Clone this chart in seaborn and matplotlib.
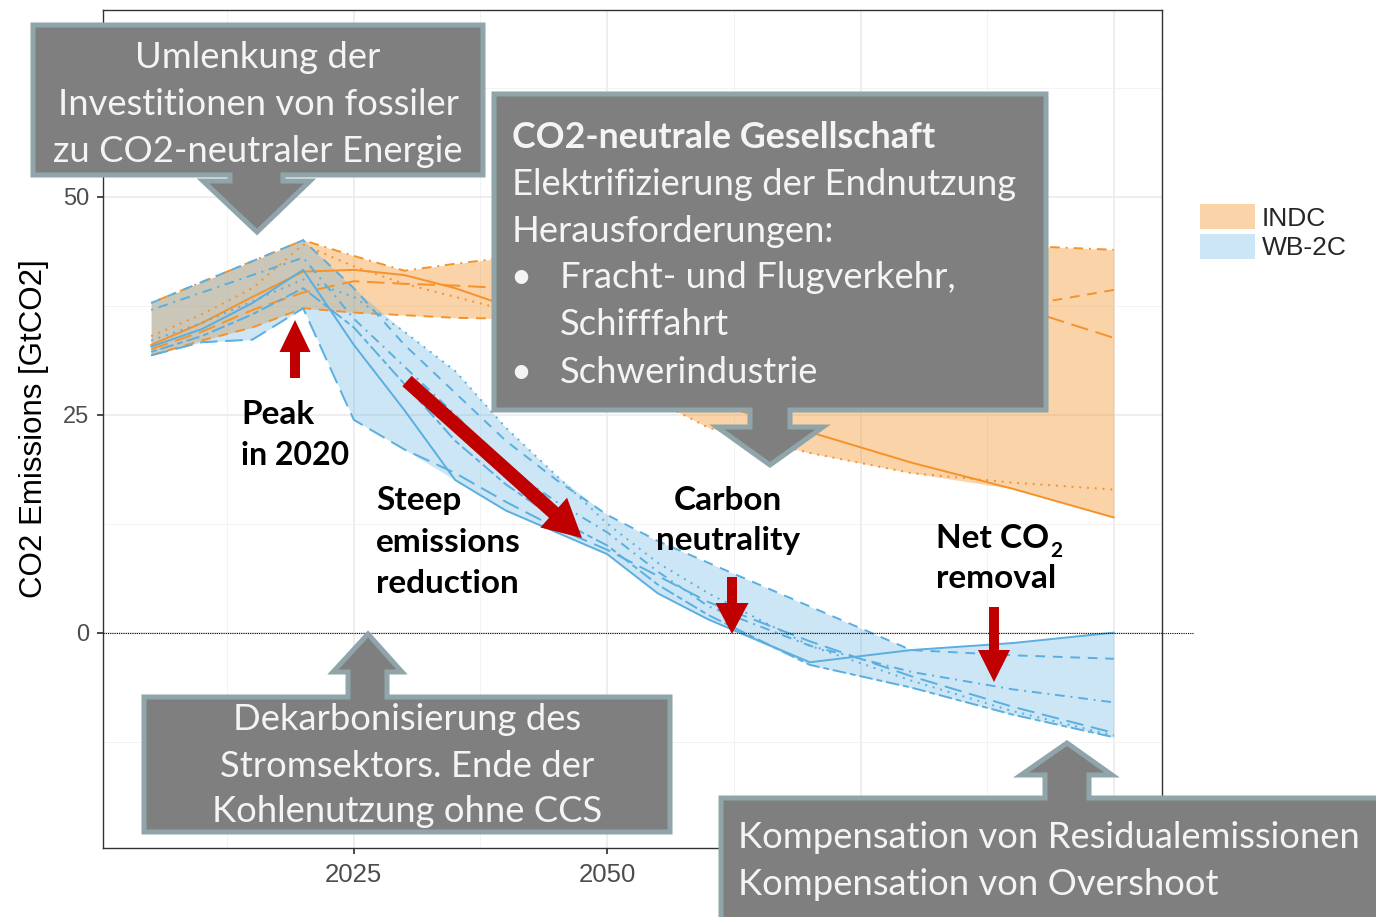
import numpy as np
import pandas as pd
import matplotlib
matplotlib.use("Agg")
import matplotlib.pyplot as plt
import seaborn as sns
from matplotlib.patches import Polygon, Patch

# ---------------- data (GtCO2) ----------------
years = [2005, 2010, 2015, 2020, 2025, 2030, 2035, 2040, 2045, 2050,
         2055, 2060, 2070, 2080, 2090, 2100]

# WB-2C pathways (one list per model)
wb_solid    = [32.8, 34.8, 37.8, 41.6, 33.0, 25.5, 17.5, 14.0, 11.5, 9.0, 4.5, 1.5, -3.4, -2.0, -1.2, 0.0]
wb_dash     = [37.8, 40.2, 42.6, 45.0, 39.5, 33.0, 27.5, 22.0, 17.5, 13.5, 10.5, 8.0, 3.0, -2.0, -2.6, -3.0]
wb_dot      = [33.5, 35.5, 38.0, 40.5, 38.5, 34.5, 30.0, 23.5, 18.0, 12.5, 8.0, 4.5, -1.5, -5.5, -9.0, -11.8]
wb_dashdot  = [37.0, 39.0, 41.0, 43.0, 36.0, 30.5, 25.0, 19.0, 15.0, 11.5, 7.0, 3.0, -1.5, -4.5, -6.5, -8.0]
wb_longdash = [31.8, 33.3, 33.6, 37.2, 24.4, 21.0, 18.3, 15.0, 12.0, 9.5, 6.5, 3.5, -1.0, -5.0, -8.5, -11.5]
wb_twodash  = [32.2, 34.0, 36.5, 39.5, 35.0, 28.5, 22.0, 17.0, 13.0, 10.0, 5.5, 2.0, -3.7, -6.3, -9.4, -12.0]

# INDC pathways
indc_solid    = [33.0, 35.5, 38.5, 41.4, 41.6, 41.0, 39.5, 37.5, 35.0, 32.0, 29.0, 26.5, 23.0, 19.5, 16.5, 13.2]
indc_dot      = [34.0, 36.5, 39.5, 44.5, 42.0, 40.0, 38.5, 37.0, 33.5, 30.0, 26.5, 23.5, 20.6, 18.3, 17.2, 16.4]
indc_dashdot  = [37.8, 40.2, 42.6, 45.0, 43.2, 41.5, 42.3, 43.0, 43.5, 44.0, 44.5, 45.0, 45.2, 44.8, 44.4, 43.9]
indc_dash     = [31.8, 33.5, 35.0, 37.2, 36.7, 36.4, 36.1, 36.0, 36.2, 36.5, 36.8, 37.0, 37.3, 37.5, 37.3, 39.3]
indc_longdash = [32.5, 34.5, 37.0, 39.0, 40.3, 40.0, 39.8, 39.5, 39.5, 39.3, 39.2, 39.0, 38.7, 38.4, 37.5, 33.8]

scenario_labels = ["INDC", "WB-2C"]
x_ticks = [2025, 2050, 2075, 2100]
x_tick_labels = ["2025", "2050", "", ""]   # last two sit under the callout box
y_ticks = [0, 25, 50]

wb_models = {"solid": wb_solid, "dash": wb_dash, "dot": wb_dot,
             "dashdot": wb_dashdot, "longdash": wb_longdash, "twodash": wb_twodash}
indc_models = {"solid": indc_solid, "dot": indc_dot, "dashdot": indc_dashdot,
               "dash": indc_dash, "longdash": indc_longdash}

rows = []
for scen, models in [("INDC", indc_models), ("WB-2C", wb_models)]:
    for m, vals in models.items():
        for y, v in zip(years, vals):
            rows.append((scen, m, y, v))
df = pd.DataFrame(rows, columns=["scenario", "model", "year", "value"])

# ---------------- style ----------------
sns.set_theme(style="ticks")
plt.rcParams["font.family"] = ["Liberation Sans", "DejaVu Sans"]

W, H = 1376, 917
fig = plt.figure(figsize=(W / 100, H / 100), dpi=100)
fig.patch.set_facecolor("white")


def px(x, y):
    return (x / W, 1 - y / H)


ax = fig.add_axes([103 / W, 1 - 848 / H, (1162 - 103) / W, (848 - 10) / H])

line_col = {"INDC": "#F5922A", "WB-2C": "#5AAEE0"}
fill_col = {"INDC": ("#F5922A", 0.40), "WB-2C": ("#5AAEE0", 0.30)}

# ribbons (min / max across models)
for scen in scenario_labels:
    band = df[df.scenario == scen].groupby("year")["value"].agg(["min", "max"])
    c, a = fill_col[scen]
    ax.fill_between(band.index, band["min"], band["max"], color=c, alpha=a, lw=0, zorder=1)

dash_map = {"solid": "", "dash": (5, 4), "dot": (1, 3), "dashdot": (1, 3, 5, 3),
            "longdash": (9, 4), "twodash": (3, 2, 7, 2)}
sns.lineplot(data=df, x="year", y="value", hue="scenario", style="model",
             palette=line_col, dashes=dash_map, estimator=None, lw=1.4,
             legend=False, ax=ax, zorder=2)

ax.set_xlim(2000.25, 2104.75)
ax.set_ylim(-24.7, 71.4)
ax.set_xticks(x_ticks)
ax.set_xticklabels(x_tick_labels)
ax.set_xticks([2012.5, 2037.5, 2062.5, 2087.5], minor=True)
ax.set_yticks(y_ticks)
ax.set_yticks([-12.5, 12.5, 37.5, 62.5], minor=True)
ax.grid(which="major", color="#EBEBEB", lw=1.2)
ax.grid(which="minor", color="#F3F3F3", lw=0.7)
ax.set_axisbelow(True)
ax.tick_params(which="major", length=4, color="#333333", labelcolor="#4D4D4D",
               direction="out")
ax.tick_params(axis="x", labelsize=18.5, pad=7)
ax.tick_params(axis="y", labelsize=17, pad=6)
ax.tick_params(which="minor", length=0)
for s in ax.spines.values():
    s.set_color("#333333")
    s.set_linewidth(1.0)
ax.set_xlabel("")
ax.set_ylabel("CO2 Emissions [GtCO2]", fontsize=22.5, color="black", labelpad=10)

# dotted zero line (runs a bit past the panel)
ax.axhline(0, xmin=0, xmax=(1193 - 103) / (1162 - 103), color="black", lw=0.8,
           ls=(0, (1, 1)), clip_on=False, zorder=3)

# legend
handles = [Patch(facecolor=fill_col[s][0], alpha=fill_col[s][1], edgecolor="none", label=s)
           for s in scenario_labels]
fig.legend(handles=handles, loc="upper left", bbox_to_anchor=px(1200, 204), frameon=False,
           fontsize=19, handlelength=2.1, handleheight=1.1, labelspacing=0.12,
           handletextpad=0.25, borderaxespad=0, borderpad=0)

# ---------------- callout boxes ----------------
box_face = "#7F7F7F"
box_edge = "#8FA5AA"
txt_col = "#F4F4F4"


def callout(rect, neck, head, tip, down=True):
    x0, y0, x1, y1 = rect
    nl, nr = neck
    hl, hr, hy = head
    tx, ty = tip
    if down:
        pts = [(x0, y0), (x1, y0), (x1, y1), (nr, y1), (nr, hy), (hr, hy), (tx, ty),
               (hl, hy), (nl, hy), (nl, y1), (x0, y1)]
    else:
        pts = [(x0, y0), (nl, y0), (nl, hy), (hl, hy), (tx, ty), (hr, hy), (nr, hy),
               (nr, y0), (x1, y0), (x1, y1), (x0, y1)]
    fig.add_artist(Polygon([px(*p) for p in pts], closed=True, transform=fig.transFigure,
                           facecolor=box_face, edgecolor=box_edge, lw=3.6,
                           joinstyle="miter", zorder=5))


callout((33, 25, 483, 175), (230, 283), (203, 310, 181), (257, 232), down=True)
callout((494, 94, 1046, 410), (750, 790), (717, 823, 427), (770, 465), down=True)
callout((144, 697, 670, 832), (348, 387), (333, 402, 672), (368, 634), down=False)
callout((721, 798, 1390, 930), (1045, 1089), (1021, 1112, 775), (1067, 743), down=False)


def ftxt(x, y, s, ha="left", color=txt_col, weight="normal", size=26.2):
    return fig.text(*px(x, y), s, ha=ha, va="baseline", color=color, fontsize=size,
                    fontweight=weight, family=["Lato", "DejaVu Sans"], zorder=6)


for y, s in zip([68, 115, 162], ["Umlenkung der", "Investitionen von fossiler",
                                  "zu CO2-neutraler Energie"]):
    ftxt(258, y, s, ha="center")

ftxt(512, 148, "CO2-neutrale Gesellschaft", weight="bold", size=25.8)
ftxt(512, 195, "Elektrifizierung der Endnutzung")
ftxt(512, 242, "Herausforderungen:")
ftxt(510, 288, "\u2022")
ftxt(560, 288, "Fracht- und Flugverkehr,")
ftxt(560, 335, "Schifffahrt")
ftxt(510, 383, "\u2022")
ftxt(560, 383, "Schwerindustrie")

for y, s in zip([730, 777, 822], ["Dekarbonisierung des", "Stromsektors. Ende der",
                                  "Kohlenutzung ohne CCS"]):
    ftxt(407, y, s, ha="center")

ftxt(738, 848, "Kompensation von Residualemissionen")
ftxt(738, 895, "Kompensation von Overshoot")

# ---------------- red arrows ----------------
red = "#C00000"


def arrow(x0, y0, x1, y1, sw, hw, hl):
    dx, dy = x1 - x0, y1 - y0
    L = np.hypot(dx, dy)
    ux, uy = dx / L, dy / L
    nx, ny = -uy, ux
    bx, by = x1 - ux * hl, y1 - uy * hl
    pts = [(x0 + nx * sw / 2, y0 + ny * sw / 2), (bx + nx * sw / 2, by + ny * sw / 2),
           (bx + nx * hw / 2, by + ny * hw / 2), (x1, y1),
           (bx - nx * hw / 2, by - ny * hw / 2), (bx - nx * sw / 2, by - ny * sw / 2),
           (x0 - nx * sw / 2, y0 - ny * sw / 2)]
    fig.add_artist(Polygon([px(*p) for p in pts], closed=True, transform=fig.transFigure,
                           facecolor=red, edgecolor="none", zorder=4))


arrow(295, 378, 295, 320, 10, 31, 32)
arrow(407, 381, 582, 538, 14, 40, 38)
arrow(732, 577, 732, 634, 10, 33, 31)
arrow(994, 607, 994, 682, 10, 32, 32)

# ---------------- bold annotations ----------------
ann = dict(color="black", weight="bold", size=24)
ftxt(241, 424, "Peak", **ann)
ftxt(241, 465, "in 2020", size=23, color="black", weight="bold")
ftxt(376, 510, "Steep", **ann)
ftxt(376, 552, "emissions", **ann)
ftxt(376, 593, "reduction", **ann)
ftxt(728, 510, "Carbon", ha="center", **ann)
ftxt(728, 550, "neutrality", ha="center", **ann)
t = ftxt(936, 548, "Net CO", **ann)
ftxt(936, 588, "removal", **ann)
bb = t.get_window_extent(fig.canvas.get_renderer())
fig.text(bb.x1 / W + 1 / W, 1 - 557 / H, "2", ha="left", va="baseline", color="black",
         fontsize=15, fontweight="bold", family=["Lato", "DejaVu Sans"], zorder=6)

fig.savefig("out.png", dpi=100)
